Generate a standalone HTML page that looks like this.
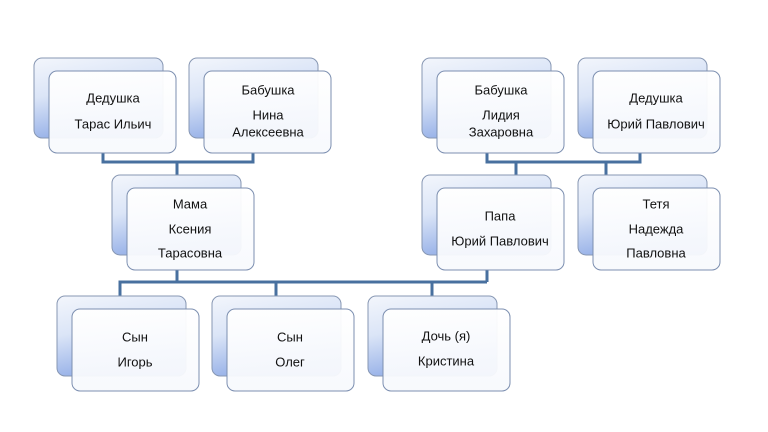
<!DOCTYPE html>
<html><head><meta charset="utf-8"><style>
html,body{margin:0;padding:0;background:#fff;}
svg{display:block;}
text{font-family:"Liberation Sans","DejaVu Sans",sans-serif;font-size:13px;fill:#111;text-anchor:middle;dominant-baseline:central;}
</style></head><body>
<svg width="768" height="432" viewBox="0 0 768 432" xmlns="http://www.w3.org/2000/svg">
<defs>
<linearGradient id="bg" x1="0" y1="0" x2="0.35" y2="1">
<stop offset="0" stop-color="#f3f6fc"/><stop offset="0.45" stop-color="#dbe5f7"/><stop offset="1" stop-color="#8fabe6"/>
</linearGradient>
<linearGradient id="fg" x1="0" y1="0" x2="0" y2="1">
<stop offset="0" stop-color="#ffffff"/><stop offset="1" stop-color="#f7f9fd"/>
</linearGradient>
<g id="pair">
<rect x="0" y="0" width="129" height="80" rx="8" fill="url(#bg)" stroke="#8797b3" stroke-width="1"/>
<rect x="15" y="13" width="127" height="82" rx="8" fill="url(#fg)" stroke="#7c8fb0" stroke-width="1" fill-opacity="0.95"/>
</g>
</defs>
<g fill="none" stroke="#48709f" stroke-width="3">
<path d="M103 153V162H253V153M177 162V176"/>
<path d="M487 153V162H640V153M516 162V176M606 162V176"/>
<path d="M177 270V282M487 270V282M120 297V282H487M276 282V297M432 282V297"/>
</g>
<use href="#pair" x="34" y="58"/>
<use href="#pair" x="189" y="58"/>
<use href="#pair" x="422" y="58"/>
<use href="#pair" x="578" y="58"/>
<use href="#pair" x="112" y="175"/>
<use href="#pair" x="422" y="175"/>
<use href="#pair" x="578" y="175"/>
<use href="#pair" x="57" y="296"/>
<use href="#pair" x="212" y="296"/>
<use href="#pair" x="368" y="296"/>
<text x="113" y="98">Дедушка</text><text x="113" y="124">Тарас Ильич</text>
<text x="268" y="90">Бабушка</text><text x="268" y="115">Нина</text><text x="268" y="132">Алексеевна</text>
<text x="501" y="90">Бабушка</text><text x="501" y="115">Лидия</text><text x="501" y="132">Захаровна</text>
<text x="656" y="98">Дедушка</text><text x="656" y="124">Юрий Павлович</text>
<text x="190" y="204">Мама</text><text x="190" y="229">Ксения</text><text x="190" y="253">Тарасовна</text>
<text x="500" y="216">Папа</text><text x="500" y="241">Юрий Павлович</text>
<text x="656" y="204">Тетя</text><text x="656" y="229">Надежда</text><text x="656" y="253">Павловна</text>
<text x="135" y="337">Сын</text><text x="135" y="362">Игорь</text>
<text x="290" y="337">Сын</text><text x="290" y="362">Олег</text>
<text x="446" y="336">Дочь (я)</text><text x="446" y="361">Кристина</text>
</svg>
</body></html>
